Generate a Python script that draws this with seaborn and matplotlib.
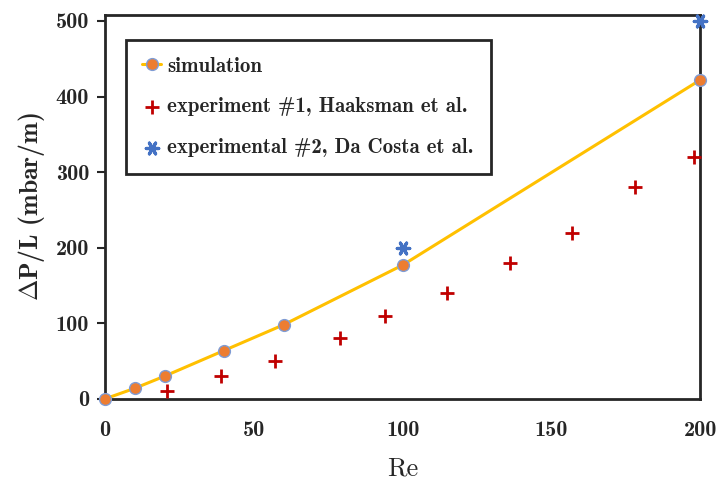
import matplotlib
matplotlib.use("Agg")
import matplotlib.pyplot as plt
import seaborn as sns
import pandas as pd

# -------------------- Data --------------------

sim_re = [0, 10, 20, 40, 60, 100, 200]
sim_dp = [0, 14, 30, 64, 98, 177, 422]

exp1_re = [21, 39, 57, 79, 94, 115, 136, 157, 178, 198]
exp1_dp = [10, 30, 50, 80, 110, 140, 180, 220, 280, 320]

exp2_re = [100, 200]
exp2_dp = [200, 500]

x_ticks = [0, 50, 100, 150, 200]
y_ticks = [0, 100, 200, 300, 400, 500]

# -------------------- Plot --------------------

sns.set_style("white")
plt.rcParams['font.family'] = ['cmb10', 'DejaVu Serif']
plt.rcParams['mathtext.fontset'] = 'cm'
plt.rcParams['axes.unicode_minus'] = False

sim = pd.DataFrame({"Re": sim_re, "dP": sim_dp})
exp1 = pd.DataFrame({"Re": exp1_re, "dP": exp1_dp})
exp2 = pd.DataFrame({"Re": exp2_re, "dP": exp2_dp})

fig = plt.figure(figsize=(7.19, 4.8), dpi=100)
ax = fig.add_axes([0.146, 0.169, 0.828, 0.80])

sns.lineplot(data=sim, x="Re", y="dP", ax=ax, color="#FFC000", linewidth=2.2,
             marker="o", markersize=8.5, markerfacecolor="#ED7D31",
             markeredgecolor="#7F9CD4", markeredgewidth=1.0,
             label="simulation", zorder=3, clip_on=False)
sns.scatterplot(data=exp1, x="Re", y="dP", ax=ax, marker="+", s=90,
                color="#C00000", linewidth=2.0,
                label="experiment #1, Haaksman et al.", zorder=4, clip_on=False)
# asterisk-like cross (x with a horizontal bar)
sns.scatterplot(data=exp2, x="Re", y="dP", ax=ax, marker=(6, 2, 90), s=80,
                color="#4472C4", linewidth=2.3,
                label="experimental #2, Da Costa et al.", zorder=4, clip_on=False)

ax.set_xlim(0, 200)
ax.set_ylim(0, 508)
ax.set_xticks(x_ticks)
ax.set_yticks(y_ticks)
ax.tick_params(axis="x", length=0, pad=16, labelsize=16)
ax.tick_params(axis="y", length=6, width=1.5, direction="out", pad=5.5,
               labelsize=16, left=True)

for spine in ax.spines.values():
    spine.set_linewidth(2)
    spine.set_color("#262626")

ax.set_xlabel("Re", fontsize=19, family=['cmr10', 'DejaVu Serif'], labelpad=12)
ax.set_ylabel(r"$\mathbf{\Delta}$P/L (mbar/m)", fontsize=18.5, labelpad=6)

leg = ax.legend(loc="upper left", bbox_to_anchor=(0.035, 0.935),
                frameon=True, fancybox=False, framealpha=1, fontsize=15,
                labelspacing=1.05, handlelength=0.9, handletextpad=0.3,
                borderpad=0.8, borderaxespad=0)
leg.get_frame().set_edgecolor("#262626")
leg.get_frame().set_linewidth(2)

fig.savefig("out.png", dpi=100)
